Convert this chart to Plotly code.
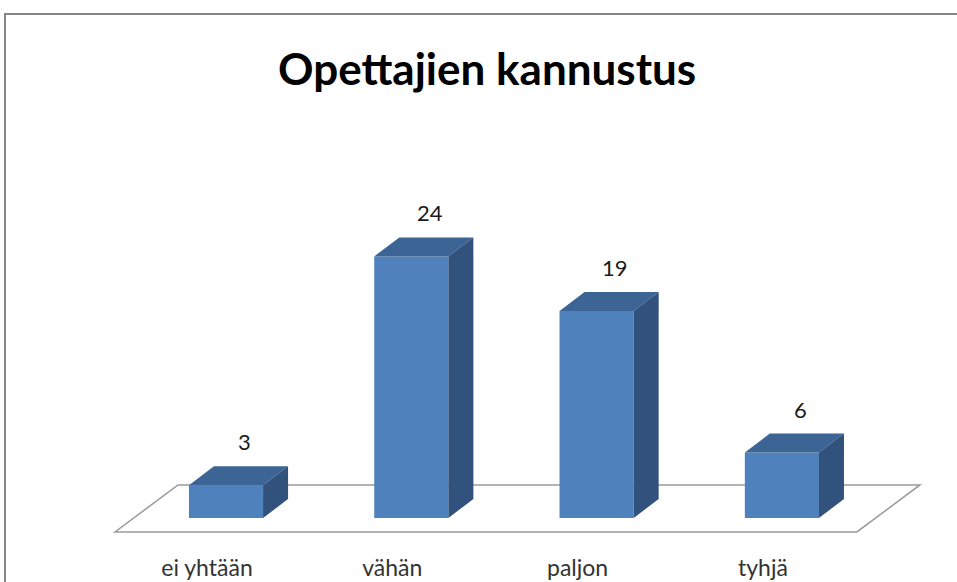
import plotly.graph_objects as go

# ── data ─────────────────────────────────────────────────────────────────────
kategoriat = ['ei yhtään', 'vähän', 'paljon', 'tyhjä']
arvot = [3, 24, 19, 6]
otsikko = 'Opettajien kannustus'

# ── 3d look ──────────────────────────────────────────────────────────────────
ETU = '#4F81BD'
KATTO = '#3C6494'
SIVU = '#31527D'
LEVEYS = 0.4
SYV_X = 0.135      # bar depth, x units
SYV_Y = 1.74       # bar depth, value units
LATTIA_ETU = -1.28  # floor front edge (value units)
LATTIA_TAKA = 3.03  # floor back edge
LATTIA_DX = 0.34    # floor depth shift in x

fig = go.Figure()

# floor (parallelogram under the bars)
n = len(kategoriat)
x_vas = -0.599
x_oik = n - 1 + 0.405
fig.add_shape(type='path', layer='below',
    path=(f'M {x_vas},{LATTIA_ETU} L {x_oik},{LATTIA_ETU} '
          f'L {x_oik + LATTIA_DX},{LATTIA_TAKA} L {x_vas + LATTIA_DX},{LATTIA_TAKA} Z'),
    line=dict(color='#9a9a9a', width=1.5), fillcolor='white')

# front faces
fig.add_trace(go.Bar(x=list(range(n)), y=arvot, width=LEVEYS,
    marker=dict(color=ETU, line=dict(width=0)), hoverinfo='skip'))

# top and side faces
for i, v in enumerate(arvot):
    xl, xr = i - LEVEYS / 2, i + LEVEYS / 2
    fig.add_trace(go.Scatter(
        x=[xl, xr, xr + SYV_X, xl + SYV_X, xl],
        y=[v, v, v + SYV_Y, v + SYV_Y, v],
        fill='toself', fillcolor=KATTO, mode='lines', line=dict(width=0),
        hoverinfo='skip'))
    fig.add_trace(go.Scatter(
        x=[xr, xr + SYV_X, xr + SYV_X, xr, xr],
        y=[0, SYV_Y, v + SYV_Y, v, 0],
        fill='toself', fillcolor=SIVU, mode='lines', line=dict(width=0),
        hoverinfo='skip'))
    fig.add_annotation(x=i + 0.1, y=v + SYV_Y, text=str(v), showarrow=False,
        yanchor='bottom', yshift=9, font=dict(size=22, color='#1a1a1a'))

# chart frame
fig.add_shape(type='rect', xref='paper', yref='paper',
    x0=5 / 957, x1=1.02, y0=-0.2, y1=1 - 14 / 552,
    line=dict(color='#868686', width=2), fillcolor='rgba(0,0,0,0)')

fig.update_layout(
    width=957, height=582,
    margin=dict(l=0, r=0, t=0, b=30),
    plot_bgcolor='white', paper_bgcolor='white',
    showlegend=False,
    font=dict(family='Lato, sans-serif', color='#333'),
    title=dict(text=f'<b>{otsikko}</b>', x=0.509, xanchor='center',
               y=1 - 70 / 582, yanchor='middle',
               font=dict(size=44, color='black', family='Lato, sans-serif')),
    xaxis=dict(range=[-1.2197, 3.945], showgrid=False, zeroline=False,
               showline=False, ticks='',
               tickvals=[i - 0.1025 for i in range(n)], ticktext=kategoriat,
               tickfont=dict(size=23, color='#333')),
    yaxis=dict(range=[-3.12, 47.52], visible=False),
)

# page body margin off, so the figure sits at the window's corner
fig.write_html('out.html', config={'displayModeBar': False},
               post_script="document.body.style.margin='0';")
